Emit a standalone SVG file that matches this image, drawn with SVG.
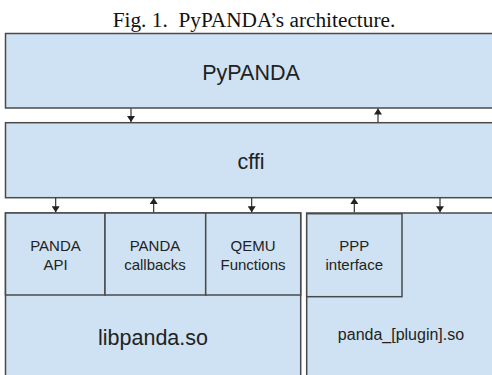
<svg xmlns="http://www.w3.org/2000/svg" width="492" height="375" viewBox="0 0 492 375">
<style>
.box{fill:#cfe2f3;stroke:#4a4a4a;stroke-width:1.5}
.lbl{font-family:"Liberation Sans",Arial,sans-serif;fill:#222;text-anchor:middle}
.cap{font-family:"Liberation Serif","Times New Roman",serif;font-size:21.3px;fill:#111;text-anchor:middle;white-space:pre}
.conn{stroke:#222;stroke-width:1.1;fill:none}
</style>
<defs>
<marker id="ah" viewBox="0 0 6 8" refX="6" refY="4" markerWidth="6" markerHeight="8" markerUnits="userSpaceOnUse" orient="auto">
<path d="M0,0 L6,4 L0,8 Z" fill="#222"/>
</marker>
</defs>
<rect width="492" height="375" fill="#fff"/>
<text class="cap" x="254" y="26.5" xml:space="preserve">Fig. 1.  PyPANDA’s architecture.</text>
<g id="pypanda">
<rect class="box" x="5.5" y="33.5" width="500" height="74.5"/>
<text class="lbl" x="251" y="80" font-size="21.5">PyPANDA</text>
</g>
<g id="cffi">
<rect class="box" x="5.5" y="122.7" width="500" height="75"/>
<text class="lbl" x="251" y="169" font-size="21.5">cffi</text>
</g>
<g id="libpanda">
<rect class="box" x="5.5" y="213" width="295.2" height="180"/>
<text class="lbl" x="153" y="345" font-size="21.5">libpanda.so</text>
</g>
<g id="panda-api">
<rect class="box" x="5.5" y="213" width="99.5" height="82"/>
<text class="lbl" x="55.5" y="250.5" font-size="15">PANDA</text>
<text class="lbl" x="55.5" y="269.5" font-size="15">API</text>
</g>
<g id="panda-callbacks">
<rect class="box" x="105" y="213" width="100.7" height="82"/>
<text class="lbl" x="155" y="250.5" font-size="15">PANDA</text>
<text class="lbl" x="155" y="269.5" font-size="15">callbacks</text>
</g>
<g id="qemu-functions">
<rect class="box" x="205.7" y="213" width="95" height="82"/>
<text class="lbl" x="253" y="250.5" font-size="15">QEMU</text>
<text class="lbl" x="253" y="269.5" font-size="15">Functions</text>
</g>
<g id="plugin">
<rect class="box" x="306.7" y="213" width="200" height="180"/>
<text class="lbl" x="401" y="340" font-size="16">panda_[plugin].so</text>
</g>
<g id="ppp-interface">
<rect class="box" x="306.7" y="213.7" width="95.3" height="83"/>
<text class="lbl" x="354.3" y="250.5" font-size="15">PPP</text>
<text class="lbl" x="354.3" y="269.5" font-size="15">interface</text>
</g>
<g id="connectors">
<line class="conn" x1="131" y1="108.5" x2="131" y2="122" marker-end="url(#ah)"/>
<line class="conn" x1="378" y1="122" x2="378" y2="108.5" marker-end="url(#ah)"/>
<line class="conn" x1="55.7" y1="198" x2="55.7" y2="212.3" marker-end="url(#ah)"/>
<line class="conn" x1="153.7" y1="212.3" x2="153.7" y2="198" marker-end="url(#ah)"/>
<line class="conn" x1="251.7" y1="198" x2="251.7" y2="212.3" marker-end="url(#ah)"/>
<line class="conn" x1="354.3" y1="212.3" x2="354.3" y2="198" marker-end="url(#ah)"/>
<line class="conn" x1="440" y1="198" x2="440" y2="212.3" marker-end="url(#ah)"/>
</g>
</svg>
